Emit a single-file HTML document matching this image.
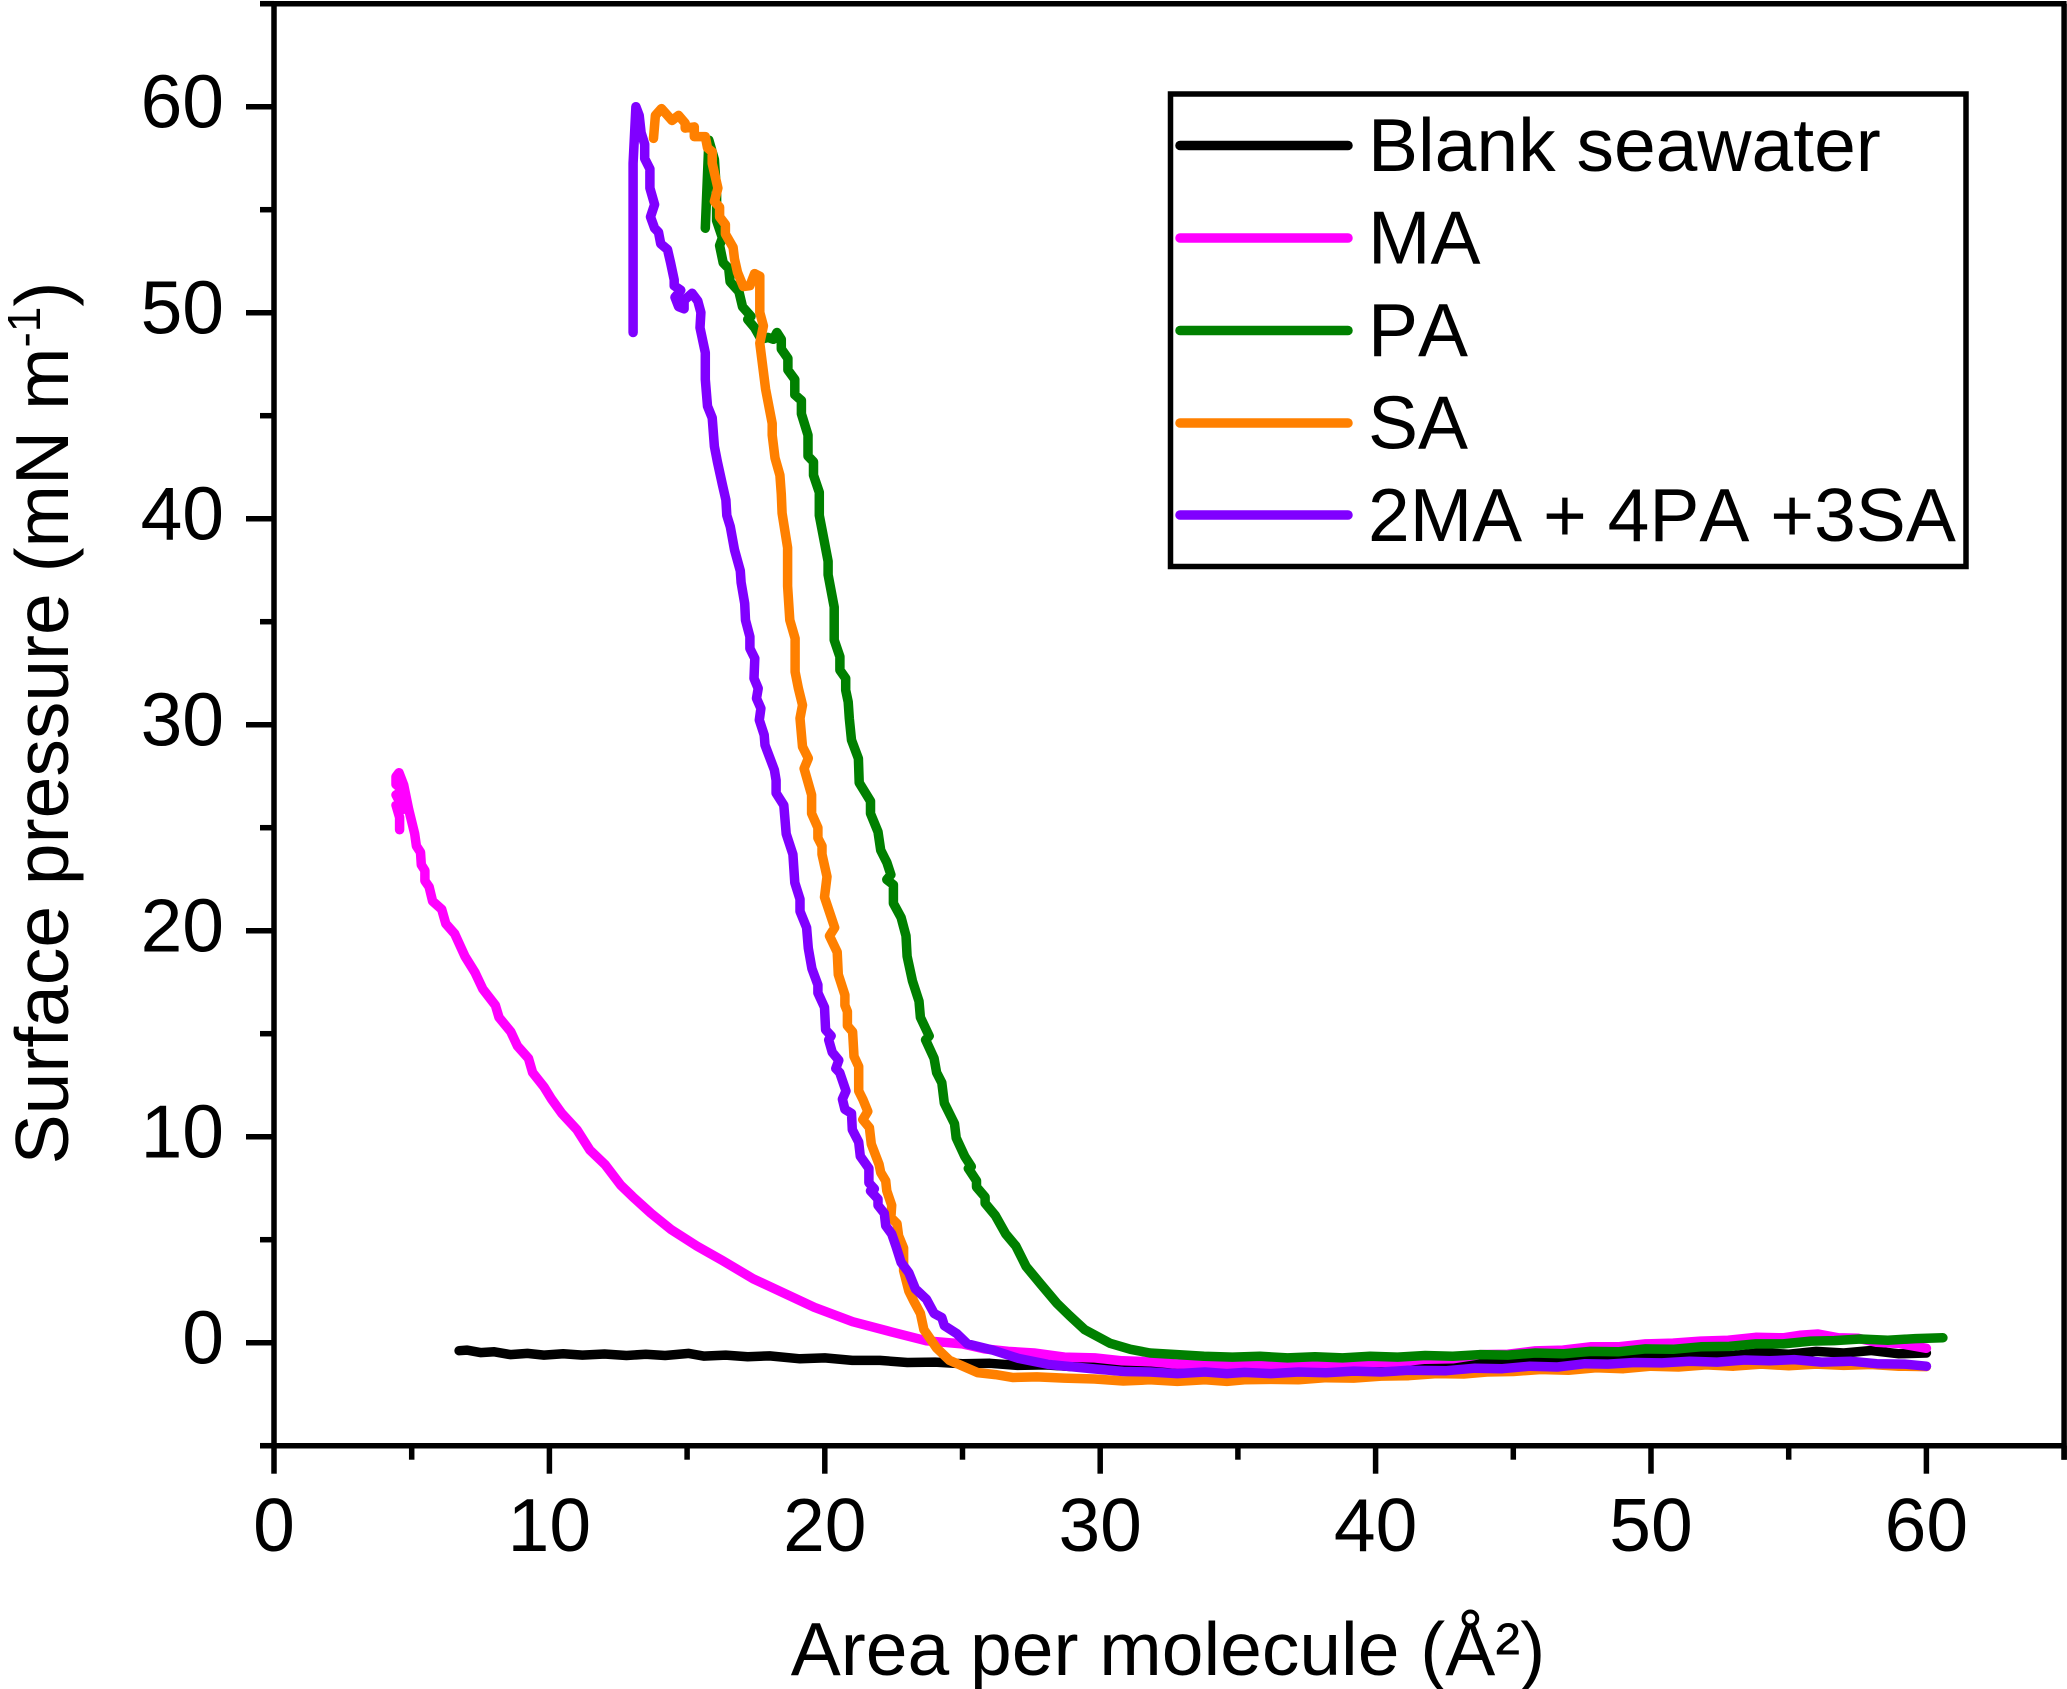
<!DOCTYPE html>
<html lang="en">
<head>
<meta charset="utf-8">
<title>Surface pressure isotherms</title>
<style>
html,body{margin:0;padding:0;background:#fff;}
svg{display:block;font-family:"Liberation Sans",Arial,sans-serif;font-kerning:none;}
</style>
</head>
<body>
<svg id="chart" xmlns="http://www.w3.org/2000/svg" width="2067" height="1689" viewBox="0 0 2067 1689">
<rect x="0" y="0" width="2067" height="1689" fill="#ffffff"/>
<g id="series"></g>
<g id="axes"></g>
<text x="1168" y="1675" font-size="75" text-anchor="middle" fill="#000">Area per molecule (Å²)</text>
<text transform="translate(68,723) rotate(-90)" font-size="75" text-anchor="middle" fill="#000">Surface pressure (mN m<tspan font-size="46" dy="-28">-1</tspan><tspan dy="28">)</tspan></text>
<g>
<rect x="1170.5" y="94" width="795.5" height="472.5" fill="#fff" stroke="#000" stroke-width="5.5"/>
<line x1="1180" x2="1348" y1="145.5" y2="145.5" stroke="#000000" stroke-width="9.5" stroke-linecap="round"/>
<text x="1368" y="171" font-size="75">Blank seawater</text>
<line x1="1180" x2="1348" y1="238" y2="238" stroke="#ff00ff" stroke-width="9.5" stroke-linecap="round"/>
<text x="1368" y="263.5" font-size="75">MA</text>
<line x1="1180" x2="1348" y1="330.5" y2="330.5" stroke="#008000" stroke-width="9.5" stroke-linecap="round"/>
<text x="1368" y="356" font-size="75">PA</text>
<line x1="1180" x2="1348" y1="423" y2="423" stroke="#ff8000" stroke-width="9.5" stroke-linecap="round"/>
<text x="1368" y="448.5" font-size="75">SA</text>
<line x1="1180" x2="1348" y1="515" y2="515" stroke="#8000ff" stroke-width="9.5" stroke-linecap="round"/>
<text x="1368" y="541" font-size="75">2MA + 4PA +3SA</text>
</g>
</svg>
<script>
const xTickLabels = [0, 10, 20, 30, 40, 50, 60];
const xMinorTicks = [5, 15, 25, 35, 45, 55, 65];
const yTickLabels = [0, 10, 20, 30, 40, 50, 60];
const yMinorTicks = [-5, 5, 15, 25, 35, 45, 55, 65];

const blankPoints = [[6.72,-0.39],[7.0,-0.36],[7.5,-0.48],[8.0,-0.44],[8.58,-0.58],[9.2,-0.52],[9.8,-0.6],[10.5,-0.54],[11.2,-0.6],[12,-0.55],[12.8,-0.62],[13.5,-0.56],[14.2,-0.62],[15.06,-0.52],[15.6,-0.65],[16.4,-0.6],[17.2,-0.68],[18,-0.64],[19.1,-0.78],[20,-0.74],[21,-0.86],[22,-0.86],[23,-0.96],[24,-0.94],[25,-1.02],[26,-1.0],[27,-1.1],[28,-1.08],[29,-1.16],[30,-1.12],[30.84,-1.2],[32,-1.16],[33,-1.24],[34,-1.18],[35,-1.24],[36,-1.14],[37,-1.2],[38,-1.08],[39,-1.14],[40,-1.02],[41,-1.08],[42,-0.96],[43,-1.0],[44,-0.88],[45,-0.94],[46,-0.82],[47,-0.86],[48,-0.74],[49,-0.8],[50,-0.66],[51,-0.72],[52,-0.58],[53,-0.62],[54,-0.48],[55,-0.56],[56,-0.42],[57,-0.5],[58,-0.38],[59,-0.54],[60,-0.5]];

const maPoints = [[4.56,24.9],[4.56,25.5],[4.43,26.09],[4.71,25.9],[4.43,26.59],[4.71,26.78],[4.43,27.1],[4.43,27.48],[4.54,27.67],[4.71,27.08],[4.89,25.89],[5.11,24.7],[5.17,24.11],[5.32,23.81],[5.35,23.2],[5.48,22.92],[5.48,22.42],[5.63,22.13],[5.76,21.43],[6.09,21.04],[6.24,20.34],[6.56,19.85],[6.93,18.76],[7.3,17.97],[7.58,17.17],[8.04,16.38],[8.17,15.79],[8.6,15.09],[8.84,14.4],[9.24,13.8],[9.39,13.11],[9.8,12.42],[10.08,11.82],[10.45,11.13],[11,10.34],[11.47,9.35],[12.02,8.65],[12.58,7.66],[13.04,7.07],[13.69,6.28],[14.43,5.48],[15.36,4.69],[16.28,3.99],[17.4,3.1],[18.51,2.41],[19.62,1.72],[21.01,1.02],[22.4,0.53],[23.69,0.09],[24.99,-0.06],[25.8,-0.3],[26.66,-0.42],[27.6,-0.5],[28.7,-0.7],[29.8,-0.74],[30.8,-0.88],[31.8,-0.92],[32.8,-1.04],[33.8,-1.02],[34.8,-1.1],[35.8,-1.04],[36.8,-1.1],[37.8,-1.0],[38.8,-1.04],[39.8,-0.96],[40.8,-0.94],[41.8,-0.8],[42.8,-0.78],[43.8,-0.58],[44.8,-0.56],[45.8,-0.4],[46.8,-0.36],[47.8,-0.2],[48.8,-0.2],[49.8,-0.06],[50.8,-0.02],[51.8,0.08],[52.8,0.12],[53.8,0.26],[54.8,0.24],[55.4,0.36],[56.07,0.42],[56.8,0.24],[57.5,0.22],[58.2,0.02],[59,-0.04],[60,-0.27]];

const paPoints = [[15.66,54.1],[15.79,58.37],[15.99,57.44],[16.07,55.77],[16.07,54.47],[16.28,53.63],[16.18,53.26],[16.31,52.42],[16.51,52.15],[16.56,51.5],[16.88,51.03],[17.01,50.29],[17.32,49.82],[17.2,49.67],[17.45,49.27],[17.69,48.71],[17.93,48.8],[18.13,48.71],[18.26,49.04],[18.42,48.71],[18.42,48.24],[18.66,47.78],[18.66,47.22],[18.91,46.76],[18.91,46.02],[19.15,45.74],[19.15,45.09],[19.39,44.06],[19.39,43.04],[19.59,42.76],[19.59,42.11],[19.8,41.28],[19.8,40.16],[19.96,39.05],[20.12,37.93],[20.12,37.28],[20.34,35.71],[20.34,34.11],[20.55,33.3],[20.55,32.65],[20.76,32.25],[20.76,31.68],[20.85,31.1],[20.89,30.31],[20.97,29.25],[21.22,28.36],[21.25,27.18],[21.66,26.29],[21.66,25.69],[21.93,24.8],[22.03,23.91],[22.25,23.32],[22.4,22.72],[22.25,22.48],[22.49,22.23],[22.49,21.33],[22.77,20.64],[22.95,19.75],[22.99,18.76],[23.18,17.57],[23.42,16.58],[23.47,15.79],[23.79,14.89],[23.66,14.7],[23.97,13.8],[24.06,13.11],[24.25,12.62],[24.34,11.63],[24.71,10.63],[24.77,9.94],[25.08,9.05],[25.32,8.55],[25.21,8.46],[25.51,7.86],[25.51,7.56],[25.82,7.07],[25.82,6.77],[26.19,6.18],[26.57,5.28],[26.94,4.69],[27.31,3.7],[27.86,2.81],[28.42,1.92],[28.88,1.32],[29.44,0.63],[30.36,-0.03],[31.1,-0.32],[31.81,-0.5],[32.8,-0.58],[33.77,-0.66],[34.8,-0.7],[35.8,-0.66],[36.8,-0.74],[37.8,-0.68],[38.8,-0.74],[39.8,-0.66],[40.8,-0.7],[41.8,-0.62],[42.8,-0.66],[43.8,-0.58],[44.8,-0.6],[45.8,-0.5],[46.8,-0.54],[47.8,-0.42],[48.8,-0.44],[49.8,-0.3],[50.8,-0.32],[51.8,-0.2],[52.84,-0.18],[53.8,-0.06],[54.8,-0.06],[55.8,0.08],[56.66,0.1],[57.6,0.18],[58.6,0.12],[59.6,0.2],[60.6,0.24]];

const saPoints = [[13.78,58.46],[13.85,59.58],[14.07,59.91],[14.29,59.58],[14.45,59.33],[14.69,59.58],[14.93,59.2],[14.93,58.96],[15.26,59.02],[15.26,58.55],[15.66,58.55],[15.74,58],[15.91,57.81],[15.91,57.25],[16.12,56.05],[15.99,55.4],[16.18,55.12],[16.18,54.65],[16.39,54.28],[16.39,53.82],[16.67,53.17],[16.72,52.61],[16.83,51.96],[17.04,51.27],[17.28,51.31],[17.45,51.9],[17.64,51.77],[17.64,50.01],[17.77,49.36],[17.64,48.52],[17.85,46.29],[18.09,44.62],[18.09,44.06],[18.19,42.95],[18.37,42.11],[18.42,41.19],[18.45,40.26],[18.65,38.59],[18.65,36.73],[18.73,35.08],[18.92,34.19],[18.92,32.57],[19.04,31.76],[19.19,30.95],[19.1,30.31],[19.19,28.93],[19.4,28.37],[19.25,27.87],[19.52,26.59],[19.52,25.69],[19.75,25],[19.75,24.5],[19.9,24.11],[19.9,23.71],[20.08,22.62],[19.99,21.63],[20.36,20.15],[20.17,19.75],[20.45,18.96],[20.49,17.87],[20.73,16.88],[20.73,16.38],[20.82,16.08],[20.82,15.39],[21.01,15.09],[21.06,13.9],[21.23,13.41],[21.23,12.22],[21.38,11.82],[21.56,11.23],[21.38,10.83],[21.62,10.44],[21.69,9.64],[21.97,8.65],[22.03,8.26],[22.21,7.86],[22.25,7.37],[22.43,6.67],[22.4,6.08],[22.62,5.78],[22.68,5.19],[22.86,4.59],[22.86,3.5],[23.05,2.51],[23.23,2.02],[23.47,1.42],[23.6,0.63],[24.06,-0.26],[24.53,-0.86],[25.55,-1.45],[26.2,-1.55],[26.84,-1.69],[27.7,-1.66],[28.69,-1.72],[29.8,-1.76],[30.84,-1.86],[31.8,-1.8],[32.8,-1.88],[33.8,-1.8],[34.6,-1.88],[35.24,-1.8],[36.2,-1.78],[37.2,-1.8],[38.2,-1.7],[39.2,-1.72],[40.2,-1.62],[41.2,-1.6],[42.2,-1.5],[43.2,-1.52],[44.04,-1.42],[45,-1.4],[46,-1.3],[47,-1.34],[48,-1.22],[49,-1.26],[50,-1.14],[51,-1.18],[52,-1.08],[53,-1.14],[54,-1.04],[55,-1.12],[56,-1.04],[57,-1.1],[58,-1.06],[59,-1.14],[60,-1.16]];

const mixPoints = [[13.04,49.04],[13.04,57.25],[13.14,60],[13.26,59.58],[13.33,58.74],[13.46,58.18],[13.46,57.48],[13.65,56.98],[13.65,56.05],[13.82,55.25],[13.67,54.65],[13.82,54.1],[13.96,53.91],[14.04,53.35],[14.29,53.07],[14.4,52.42],[14.53,51.59],[14.53,51.31],[14.77,51.09],[14.56,50.75],[14.69,50.29],[14.89,50.19],[14.89,50.6],[15.18,50.94],[15.39,50.57],[15.5,50.01],[15.47,49.27],[15.66,48.06],[15.66,46.76],[15.74,45.46],[15.91,44.9],[15.99,43.51],[16.1,42.76],[16.28,41.65],[16.41,40.91],[16.44,40.16],[16.57,39.61],[16.72,38.49],[16.93,37.47],[16.96,36.91],[17.09,35.89],[17.12,35.08],[17.28,34.27],[17.28,33.7],[17.46,33.22],[17.43,32.25],[17.58,31.76],[17.52,31.28],[17.68,30.79],[17.62,30.23],[17.8,29.5],[17.83,29.01],[18.01,28.37],[18.17,27.8],[18.23,27.3],[18.23,26.68],[18.51,26.09],[18.6,24.7],[18.84,23.71],[18.91,22.33],[19.1,21.53],[19.1,20.94],[19.34,20.15],[19.4,19.15],[19.53,18.16],[19.75,17.37],[19.75,16.98],[19.99,16.28],[20.03,15.19],[20.23,14.9],[20.14,14.7],[20.27,14.1],[20.51,13.71],[20.4,13.31],[20.54,13.11],[20.77,12.22],[20.64,11.82],[20.73,11.33],[20.97,11.13],[21,10.34],[21.23,9.74],[21.29,9.05],[21.6,8.46],[21.6,7.76],[21.8,7.47],[21.66,7.37],[21.93,6.97],[21.93,6.67],[22.16,6.28],[22.21,5.68],[22.43,5.28],[22.58,4.69],[22.77,3.9],[23.05,3.4],[23.29,2.61],[23.69,2.11],[23.97,1.42],[24.25,1.22],[24.34,0.83],[24.8,0.43],[25.18,-0.06],[26.1,-0.36],[27.03,-0.76],[28.14,-1.06],[29.62,-1.25],[30.84,-1.4],[31.8,-1.42],[32.8,-1.5],[33.8,-1.42],[34.6,-1.5],[35.24,-1.44],[36.2,-1.5],[37.2,-1.42],[38.2,-1.46],[39.2,-1.38],[40.2,-1.42],[41.2,-1.34],[42.57,-1.36],[43.6,-1.24],[44.6,-1.26],[45.6,-1.14],[46.6,-1.18],[47.6,-1.02],[48.44,-1.04],[49.4,-0.96],[50.4,-0.98],[51.4,-0.9],[52.4,-0.94],[53.4,-0.84],[54.3,-0.88],[55.2,-0.82],[56.2,-0.94],[57.24,-0.9],[58.2,-1.02],[59.2,-1.04],[60,-1.14]];

const plotLeft = 274;
const pxPerX = 27.54;
const yZero = 1342.7;
const pxPerY = 20.6;
const xMax = 65;
const yMin = -5;
const yMax = 65;
const NS = 'http://www.w3.org/2000/svg';
function xScale(v){ return plotLeft + pxPerX * v; }
function yScale(v){ return yZero - pxPerY * v; }

const axesLayer = document.getElementById('axes');
const seriesLayer = document.getElementById('series');

function addSeries(points, color, name){
  const path = document.createElementNS(NS, 'path');
  
  
  path.setAttribute('d', points.map(function(p, i){
    return (i ? 'L' : 'M') + xScale(p[0]).toFixed(1) + ' ' + yScale(p[1]).toFixed(1);
  }).join(' '));
  path.setAttribute('fill', 'none');
  path.setAttribute('stroke', color);
  path.setAttribute('stroke-width', '9.5');
  path.setAttribute('stroke-linejoin', 'round');
  path.setAttribute('stroke-linecap', 'round');
  seriesLayer.appendChild(path);
}
addSeries(blankPoints, '#000000', 'series-blank-seawater');
addSeries(maPoints, '#ff00ff', 'series-ma');
addSeries(paPoints, '#008000', 'series-pa');
addSeries(saPoints, '#ff8000', 'series-sa');
addSeries(mixPoints, '#8000ff', 'series-mixture');

function addRule(x1, y1, x2, y2, name){
  const line = document.createElementNS(NS, 'line');
  
  
  line.setAttribute('x1', x1);
  line.setAttribute('y1', y1);
  line.setAttribute('x2', x2);
  line.setAttribute('y2', y2);
  line.setAttribute('stroke', '#000');
  line.setAttribute('stroke-width', '5.5');
  axesLayer.appendChild(line);
}
function addLabel(x, y, anchor, value, name){
  const t = document.createElementNS(NS, 'text');
  
  
  t.setAttribute('x', x);
  t.setAttribute('y', y);
  t.setAttribute('text-anchor', anchor);
  t.setAttribute('font-size', '75');
  t.textContent = value;
  axesLayer.appendChild(t);
}
addRule(xScale(0), yScale(yMax) - 2.5, xScale(0), yScale(yMin) + 2.5, 'y-axis-line');
addRule(xScale(0) - 14, yScale(yMin), xScale(xMax) + 2.5, yScale(yMin), 'x-axis-line');
addRule(xScale(0) - 14, yScale(yMax), xScale(xMax) + 2.5, yScale(yMax), 'top-frame-line');
addRule(xScale(xMax), yScale(yMax), xScale(xMax), yScale(yMin) + 14, 'right-frame-line');
xTickLabels.forEach(function(v){
  addRule(xScale(v), yScale(yMin), xScale(v), yScale(yMin) + 28, 'x-major-tick');
  addLabel(xScale(v), 1551, 'middle', v, 'x-tick-label');
});
xMinorTicks.forEach(function(v){
  addRule(xScale(v), yScale(yMin), xScale(v), yScale(yMin) + 14, 'x-minor-tick');
});
yTickLabels.forEach(function(v){
  addRule(xScale(0) - 28, yScale(v), xScale(0), yScale(v), 'y-major-tick');
  addLabel(224, yScale(v) + 21, 'end', v, 'y-tick-label');
});
yMinorTicks.forEach(function(v){
  addRule(xScale(0) - 14, yScale(v), xScale(0), yScale(v), 'y-minor-tick');
});
</script>
</body>
</html>
